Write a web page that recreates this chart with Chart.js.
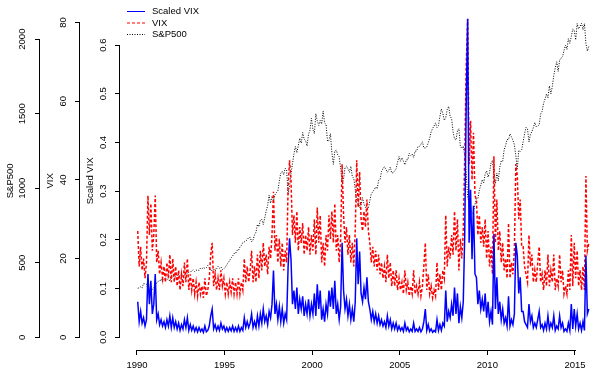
<!DOCTYPE html>
<html>
<head>
<meta charset="utf-8">
<script src="https://cdn.jsdelivr.net/npm/chart.js@4"></script>
<style>
  html, body { margin: 0; padding: 0; background: #fff; }
  canvas { display: block; }
</style>
</head>
<body>
<canvas id="myChart" width="593" height="370"></canvas>
<script>
// monthly readings, Jan 1990 .. Oct 2015
const startYear = 1990;

const vix = [
  27, 18, 23, 17, 20, 15, 19, 36, 26, 34, 22, 26,
  36, 19, 22, 16, 19, 15, 18, 14, 19, 15, 21, 14,
  20, 14, 18, 13, 17, 12, 16, 13, 19, 14, 20, 12,
  16, 12, 15, 11, 14, 10.5, 14, 11, 13, 10, 15, 10.5,
  12, 15, 21, 24, 13, 16, 12, 15, 12, 17, 13, 15,
  11, 14, 11, 14, 11.5, 15, 11, 14, 11, 15, 11, 14,
  12, 20, 14, 18, 14, 17, 22, 14, 18, 14, 21, 15,
  22, 17, 24, 18, 21, 16, 23, 20, 26, 37, 22, 26,
  19, 25, 18, 24, 17, 22, 19, 38, 45, 40, 26, 31,
  24, 32, 22, 28, 24, 29, 21, 26, 22, 28, 21, 26,
  22, 30, 21, 33, 24, 31, 19, 24, 18, 26, 22, 31,
  25, 32, 24, 34, 22, 26, 19, 25, 44, 31, 24, 28,
  21, 26, 19, 24, 18, 27, 45, 33, 42, 30, 27, 32,
  28, 35, 27, 24, 19, 23, 18, 22, 17, 21, 16, 19,
  15, 18, 14, 21, 15, 19, 13, 17, 13, 17, 12, 15,
  12, 14, 11, 17, 12, 14, 10.5, 13, 11, 17, 11, 13,
  11, 14, 10.5, 13, 18, 24, 12, 16, 11, 13, 10, 12,
  10.5, 19, 12, 16, 12, 17, 15, 31, 18, 23, 20, 26,
  21, 32, 22, 30, 17, 25, 20, 27, 46, 69, 80.9, 44,
  55, 40, 52, 36, 35, 26, 31, 24, 28, 23, 30, 20,
  27, 18, 23, 16, 46, 24, 35, 22, 27, 19, 24, 17,
  20, 15, 29, 15, 19, 16, 22, 44, 41, 30, 35, 23,
  23, 18, 16, 14, 26, 18, 21, 14, 17, 14, 19, 23,
  14, 16, 12, 17, 13, 21, 13, 17, 14, 21, 12, 15,
  13, 21, 14, 17, 11, 13, 11, 17, 12, 26, 13, 24,
  15, 22, 13, 17, 12, 18, 12, 41, 22, 24
];

const scaledVix = [
  .073, .032, .053, .029, .040, .023, .036, .130, .068, .116, .048, .068,
  .130, .036, .048, .026, .036, .023, .032, .020, .036, .023, .044, .020,
  .040, .020, .032, .017, .029, .014, .026, .017, .036, .020, .040, .014,
  .026, .014, .023, .012, .020, .011, .020, .012, .017, .010, .023, .011,
  .014, .023, .044, .058, .017, .026, .014, .023, .014, .029, .017, .023,
  .012, .020, .012, .020, .013, .023, .012, .020, .012, .023, .012, .020,
  .014, .040, .020, .032, .020, .029, .048, .020, .032, .020, .044, .023,
  .048, .029, .058, .032, .044, .026, .053, .040, .068, .137, .048, .068,
  .036, .063, .032, .058, .029, .048, .036, .144, .203, .160, .068, .096,
  .058, .102, .048, .078, .058, .084, .044, .068, .048, .078, .044, .068,
  .048, .090, .044, .109, .058, .096, .036, .058, .032, .068, .048, .096,
  .063, .102, .058, .116, .048, .068, .036, .063, .194, .096, .058, .078,
  .044, .068, .036, .058, .032, .073, .203, .109, .176, .090, .073, .102,
  .078, .123, .073, .058, .036, .053, .032, .048, .029, .044, .026, .036,
  .023, .032, .020, .044, .023, .036, .017, .029, .017, .029, .014, .023,
  .014, .020, .012, .029, .014, .020, .011, .017, .012, .029, .012, .017,
  .012, .020, .011, .017, .032, .058, .014, .026, .012, .017, .010, .014,
  .011, .036, .014, .026, .014, .029, .023, .096, .032, .053, .040, .068,
  .044, .102, .048, .090, .029, .063, .040, .073, .212, .476, .654, .194,
  .303, .160, .270, .130, .123, .068, .096, .058, .078, .053, .090, .040,
  .073, .032, .053, .026, .212, .058, .123, .048, .073, .036, .058, .029,
  .040, .023, .084, .023, .036, .026, .048, .194, .168, .090, .123, .053,
  .053, .032, .026, .020, .068, .032, .044, .020, .029, .020, .036, .053,
  .020, .026, .014, .029, .017, .044, .017, .029, .020, .044, .014, .023,
  .017, .044, .020, .029, .012, .017, .012, .029, .014, .068, .017, .058,
  .023, .048, .017, .029, .014, .032, .014, .168, .048, .058
];

const sp500 = [
  329, 331, 339, 331, 361, 358, 356, 323, 306, 304, 322, 330,
  344, 367, 375, 375, 390, 371, 388, 395, 388, 392, 375, 417,
  409, 413, 404, 415, 415, 408, 424, 414, 418, 419, 431, 436,
  439, 443, 452, 440, 450, 451, 448, 464, 459, 468, 462, 466,
  482, 467, 446, 451, 457, 444, 458, 475, 463, 472, 454, 459,
  470, 487, 501, 515, 533, 545, 562, 562, 584, 582, 605, 616,
  636, 640, 646, 654, 669, 671, 640, 652, 687, 705, 757, 741,
  786, 791, 757, 801, 848, 885, 954, 899, 947, 915, 955, 970,
  980, 1049, 1102, 1112, 1091, 1134, 1121, 957, 1017, 1099, 1164, 1229,
  1280, 1238, 1286, 1335, 1302, 1373, 1329, 1320, 1283, 1363, 1389, 1469,
  1394, 1366, 1499, 1452, 1421, 1455, 1431, 1518, 1437, 1429, 1315, 1320,
  1366, 1240, 1160, 1249, 1256, 1224, 1211, 1134, 1041, 1060, 1139, 1148,
  1130, 1107, 1147, 1077, 1067, 990, 905, 916, 870, 886, 936, 895,
  870, 860, 865, 917, 964, 975, 990, 1008, 996, 1051, 1058, 1112,
  1131, 1145, 1126, 1107, 1121, 1141, 1102, 1104, 1115, 1130, 1174, 1212,
  1181, 1204, 1181, 1157, 1191, 1191, 1234, 1220, 1229, 1207, 1249, 1248,
  1280, 1281, 1295, 1311, 1270, 1270, 1277, 1304, 1336, 1378, 1401, 1418,
  1438, 1407, 1421, 1482, 1531, 1503, 1455, 1474, 1527, 1549, 1481, 1468,
  1379, 1331, 1323, 1386, 1400, 1280, 1267, 1283, 1220, 1100, 940, 905,
  870, 830, 845, 890, 930, 930, 987, 1021, 1057, 1036, 1096, 1115,
  1074, 1104, 1169, 1187, 1089, 1031, 1102, 1049, 1141, 1183, 1181, 1258,
  1286, 1327, 1326, 1364, 1345, 1321, 1292, 1219, 1131, 1253, 1247, 1258,
  1312, 1366, 1408, 1398, 1310, 1362, 1379, 1407, 1441, 1412, 1416, 1426,
  1498, 1515, 1569, 1598, 1631, 1606, 1686, 1633, 1682, 1757, 1806, 1848,
  1783, 1859, 1872, 1884, 1924, 1960, 1931, 2003, 1972, 2018, 2068, 2059,
  1995, 2105, 2068, 2086, 2107, 2063, 2104, 1972, 1920, 1950
];

const yearTicks = [1990, 1995, 2000, 2005, 2010, 2015];
const spTicks = [0, 500, 1000, 1500, 2000];
const vixTicks = [0, 20, 40, 60, 80];
const scaledTicks = [0, 0.1, 0.2, 0.3, 0.4, 0.5, 0.6];

const FONT = "'Liberation Sans', Arial, Helvetica, sans-serif";
const font = { family: FONT, size: 9.5 };

function monthly(values) {
  return values.map((v, i) => ({ x: startYear + (i + 0.5) / 12, y: v }));
}

// R style axis lines: only from first to last tick
const axisLines = {
  id: "axisLines",
  afterDraw(chart) {
    const ctx = chart.ctx;
    ctx.save();
    ctx.strokeStyle = "#000";
    ctx.lineWidth = 1;
    ["ySp", "yVix", "yScaled"].forEach((id) => {
      const s = chart.scales[id];
      const vals = s.ticks.map((t) => t.value);
      const x = s.right - 0.5;
      ctx.beginPath();
      ctx.moveTo(x, Math.round(s.getPixelForValue(Math.min(...vals))) + 1);
      ctx.lineTo(x, Math.round(s.getPixelForValue(Math.max(...vals))));
      ctx.stroke();
    });
    const sx = chart.scales.x;
    const xv = sx.ticks.map((t) => t.value);
    ctx.beginPath();
    ctx.moveTo(Math.round(sx.getPixelForValue(Math.min(...xv))), sx.top + 0.5);
    ctx.lineTo(Math.round(sx.getPixelForValue(Math.max(...xv))) + 1, sx.top + 0.5);
    ctx.stroke();
    ctx.restore();
  }
};

const lineLegend = {
  id: "lineLegend",
  afterDraw(chart) {
    const ctx = chart.ctx;
    chart.data.datasets.forEach((ds, i) => {
      const y = 11.5 + i * 11.5;
      ctx.save();
      ctx.strokeStyle = ds.borderColor;
      ctx.lineWidth = 1;
      ctx.setLineDash(ds.borderDash || []);
      ctx.beginPath();
      ctx.moveTo(127, y);
      ctx.lineTo(145, y);
      ctx.stroke();
      ctx.restore();
      ctx.fillStyle = "#000";
      ctx.font = "9.5px " + FONT;
      ctx.textBaseline = "middle";
      ctx.fillText(ds.label, 152, y);
    });
  }
};

function yAxis(weight, min, max, tickValues, title, pad, fmt) {
  return {
    type: "linear",
    position: "left",
    weight: weight,
    min: min,
    max: max,
    afterBuildTicks: (s) => { s.ticks = tickValues.map((v) => ({ value: v })); },
    afterFit: (s) => { s.width = 40; },
    border: { display: false },
    grid: { drawOnChartArea: false, drawTicks: true, tickLength: 5, color: "#000" },
    ticks: {
      minRotation: 90, maxRotation: 90, crossAlign: "center", padding: pad,
      color: "#000", font: font, callback: fmt
    },
    title: { display: true, text: title, color: "#000", font: font, padding: { top: 5, bottom: 0 } }
  };
}

var ctx = document.getElementById("myChart").getContext("2d");
var chart = new Chart(ctx, {
  type: "line",
  data: {
    datasets: [
      { label: "Scaled VIX", data: monthly(scaledVix), yAxisID: "yScaled", borderColor: "#0000ff", borderWidth: 1.5, order: 0 },
      { label: "VIX", data: monthly(vix), yAxisID: "yVix", borderColor: "#ff0000", borderDash: [3, 2], borderWidth: 1.5, order: 1 },
      { label: "S&P500", data: monthly(sp500), yAxisID: "ySp", borderColor: "#000000", borderDash: [1, 1.5], borderWidth: 1, order: 2 }
    ]
  },
  options: {
    responsive: false,
    animation: false,
    layout: { padding: { top: 5, right: 0, bottom: 0, left: 0 } },
    elements: { point: { radius: 0 }, line: { tension: 0, fill: false } },
    plugins: { legend: { display: false }, tooltip: { enabled: false } },
    scales: {
      x: {
        type: "linear",
        min: 1989.03,
        max: 2016.03,
        afterBuildTicks: (s) => { s.ticks = yearTicks.map((v) => ({ value: v })); },
        afterFit: (s) => { s.height = 20; },
        border: { display: false },
        grid: { drawOnChartArea: false, drawTicks: true, tickLength: 5, color: "#000" },
        ticks: { maxRotation: 0, autoSkip: false, padding: 5, color: "#000", font: font, callback: (v) => String(v) }
      },
      ySp: yAxis(3, -85.5, 2184, spTicks, "S&P500", 2, (v) => String(v)),
      yVix: yAxis(2, -3.24, 82.74, vixTicks, "VIX", 6, (v) => String(v)),
      yScaled: yAxis(1, -0.02617, 0.6685, scaledTicks, "Scaled VIX", 5, (v) => v.toFixed(1))
    }
  },
  plugins: [axisLines, lineLegend]
});
</script>
</body>
</html>
